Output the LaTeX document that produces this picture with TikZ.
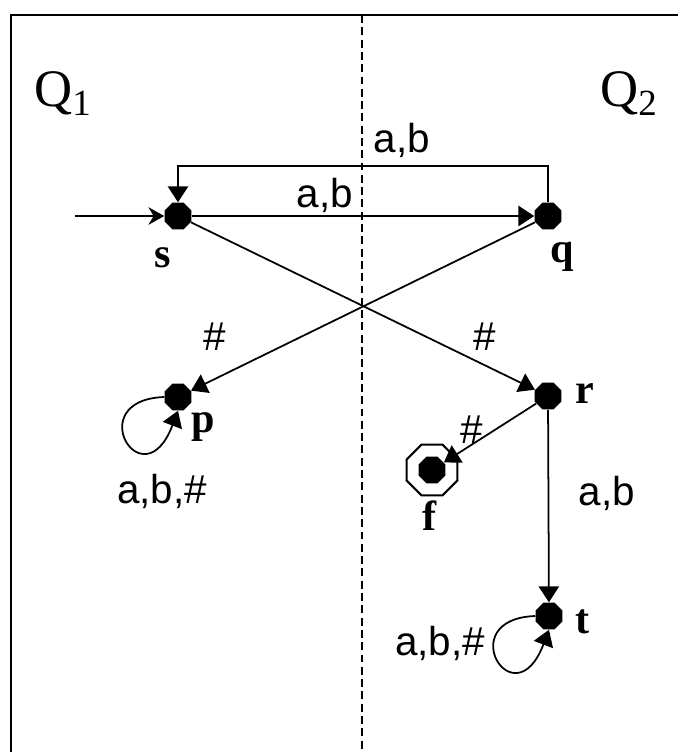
\documentclass[tikz,border=0pt]{standalone}
\usepackage{fontspec}
\setmainfont{Liberation Serif}
\setsansfont{Liberation Sans}
\usetikzlibrary{
  arrows.meta,
  positioning,
  shapes.geometric
}

\begin{document}
\begin{tikzpicture}[
    x=0.02cm, y=-0.02cm,
    state/.style={regular polygon, regular polygon sides=8, fill=black,
                  minimum size=0.58cm, inner sep=0pt},
    accept/.style={regular polygon, regular polygon sides=8, draw=black,
                   fill=white, line width=1.2pt, minimum size=1.1cm, inner sep=0pt},
    trans/.style={-{Triangle[length=9pt, width=11.5pt]}, line width=1pt},
    init/.style={-{Stealth[length=9pt, width=10pt, inset=3pt]}, line width=1pt},
    lbl/.style={font=\fontsize{24}{28}\selectfont\bfseries, anchor=base},
    tlbl/.style={font=\fontsize{23}{27}\selectfont\sffamily, anchor=base},
    part/.style={font=\fontsize{30}{34}\selectfont}
  ]
  \useasboundingbox (0,0) rectangle (678,752);

  %% Frame and split
  \draw[line width=1.3pt] (11,752) -- (11,15) -- (678,15);
  \draw[line width=0.8pt, dash pattern=on 4.5pt off 2.5pt] (362,15) -- (362,752);

  \node[part, anchor=base west] (q1lab) at (28,106) {Q\textsubscript{1}};
  \node[part, anchor=base east] (q2lab) at (664,106) {Q\textsubscript{2}};

  %% States
  \node[state] (s) at (178,216) {};
  \node[state] (q) at (548,216) {};
  \node[state] (p) at (178,397) {};
  \node[state] (r) at (548,396) {};
  \node[accept] (f) at (432,470) {};
  \node[state] (fin) at (432,470) {};
  \node[state] (t) at (549,616) {};

  \coordinate (start) at (75,216);

  %% Transitions
  \draw[init] (start) -- (s);
  \draw[trans] (s) -- (q);
  \draw[trans] (q.north) -- ++(0,-36) -| (s.north);
  \draw[trans] (s) -- (r);
  \draw[trans] (q) -- (p);
  \draw[trans] (r) -- (fin);
  \draw[trans] (r) -- (t);
  \draw[trans] (p.west) .. controls +(-84,3) and +(-35,92) .. (p.south);
  \draw[trans] (t.west) .. controls +(-84,3) and +(-35,92) .. (t.south);

  %% State labels
  \node[lbl] (s-lab) at (163,267) {s};
  \node[lbl] (q-lab) at (562,262) {q};
  \node[lbl] (p-lab) at (203,432) {p};
  \node[lbl] (r-lab) at (585,403) {r};
  \node[lbl] (f-lab) at (430,530) {f};
  \node[lbl] (t-lab) at (583,633) {t};

  %% Transition labels
  \node[tlbl] (sq-top) at (402,152) {a,b};
  \node[tlbl] (sq-mid) at (325,207) {a,b};
  \node[tlbl] (qp-lab) at (215,350) {\#};
  \node[tlbl] (sr-lab) at (485,350) {\#};
  \node[tlbl] (rf-lab) at (472,443) {\#};
  \node[tlbl] (pp-lab) at (162,503) {a,b,\#};
  \node[tlbl] (rt-lab) at (607,505) {a,b};
  \node[tlbl] (tt-lab) at (440,655) {a,b,\#};

\end{tikzpicture}
\end{document}
